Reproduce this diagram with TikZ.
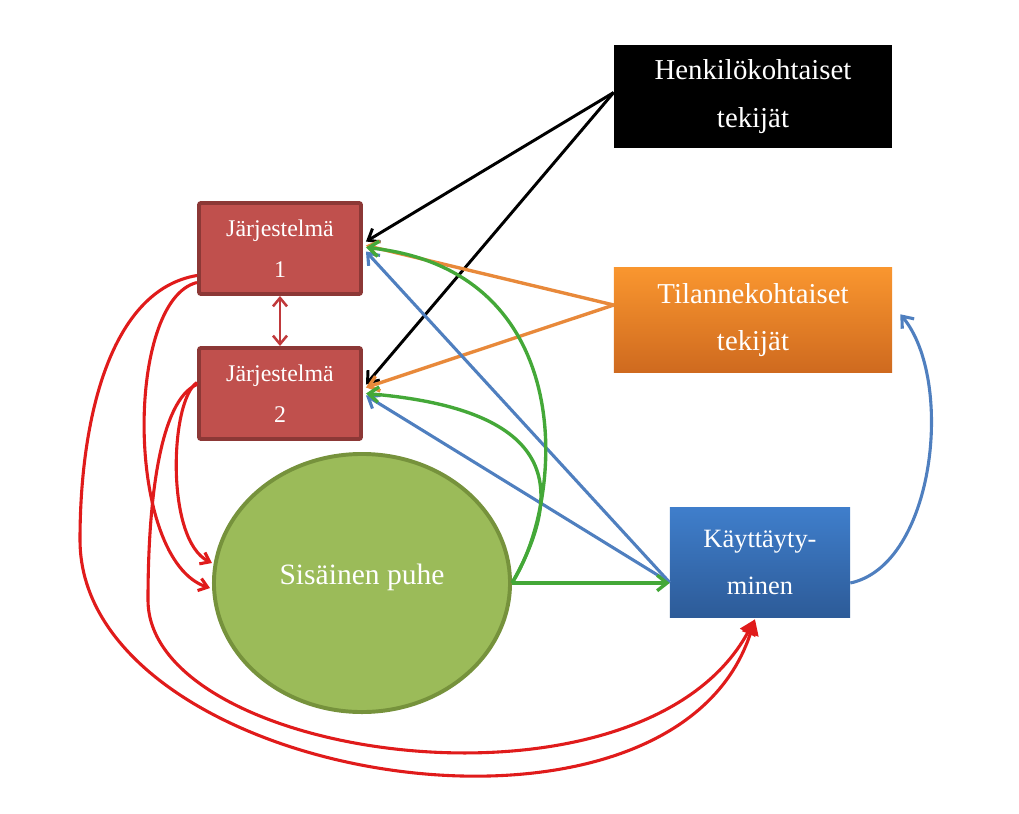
\documentclass[tikz,border=0pt]{standalone}
\usepackage{fontspec}
\setmainfont{Liberation Serif}
\usetikzlibrary{arrows.meta,shapes.geometric,calc}
\definecolor{jred}{HTML}{C0504D}
\definecolor{jredd}{HTML}{8C3836}
\definecolor{egreen}{HTML}{9BBB59}
\definecolor{egreend}{HTML}{76923C}
\definecolor{lorange}{HTML}{E8893A}
\definecolor{lblue}{HTML}{4F7FBF}
\definecolor{lgreen}{HTML}{44A838}
\definecolor{lred}{HTML}{E01B1B}
\definecolor{dred}{HTML}{C0393B}
\definecolor{otop}{HTML}{F9962F}
\definecolor{obot}{HTML}{CF6A1F}
\definecolor{btop}{HTML}{3F7ECB}
\definecolor{bbot}{HTML}{2D5B98}
\begin{document}
\begin{tikzpicture}[x=0.025cm,y=-0.025cm,
  jbox/.style={draw=jredd, fill=jred, line width=2.8pt, rounded corners=1.5pt,
    minimum width=4.05cm, minimum height=2.275cm, inner sep=0pt, text=white,
    align=center, font=\fontsize{17}{29}\selectfont},
  fbox/.style={inner sep=0pt, text=white, align=center,
    minimum width=6.95cm, font=\fontsize{20.5}{34}\selectfont},
  barb/.style={-{Straight Barb[length=7pt,width=11pt]}},
  blk/.style={barb, draw=black, line width=2.1pt},
  orn/.style={barb, draw=lorange, line width=2.4pt},
  blu/.style={barb, draw=lblue, line width=2.2pt},
  grn/.style={barb, draw=lgreen, line width=2.4pt},
  rcurve/.style={draw=lred, line width=2.2pt},
  rsmall/.style={rcurve, -{Straight Barb[length=6pt,width=9pt]}},
  rbig/.style={rcurve, -{Triangle[length=11pt,width=12pt]}}
]
\useasboundingbox (0,0) rectangle (1019,814);

% nodes
\node[fbox, fill=black, minimum height=2.575cm] (hk) at (753,96.5) {Henkilökohtaiset\\tekijät};
\node[fbox, top color=otop, bottom color=obot, minimum height=2.6cm] (tk) at (753,320) {Tilannekohtaiset\\tekijät};
\node[jbox] (j1) at (280,248.5) {Järjestelmä\\1};
\node[jbox] (j2) at (280,393.5) {Järjestelmä\\2};
\node[ellipse, draw=egreend, fill=egreen, line width=2.8pt, inner sep=0pt,
  minimum width=7.4cm, minimum height=6.45cm] (el) at (362,583) {};
\node[text=white, font=\fontsize{21}{30}\selectfont, inner sep=0pt] (elt) at (362,577) {Sisäinen puhe};
\node[inner sep=0pt, top color=btop, bottom color=bbot, minimum width=4.5cm,
  minimum height=2.725cm, text=white, align=center,
  font=\fontsize{18.8}{33}\selectfont] (beh) at (760,562.5) {Käyttäyty-\\minen};

% black
\draw[blk] ($(hk.west)+(0,-4)$) -- ($(j1.east)+(3,-7)$);
\draw[blk] ($(hk.west)+(0,-4)$) -- ($(j2.east)+(3,-9)$);
% orange
\draw[orn] ($(tk.west)+(0,-15)$) -- ($(j1.east)+(3,-3)$);
\draw[orn] ($(tk.west)+(0,-15)$) -- ($(j2.east)+(3,-6)$);
% blue
\draw[blu] ($(beh.west)+(0,20)$) -- ($(j1.east)+(3,3)$);
\draw[blu] ($(beh.west)+(0,20)$) -- ($(j2.east)+(3,2)$);
\draw[blu] (beh.east |- el.east) .. controls (935,565) and (955,380) .. ($(tk.south east)+(8,-58)$);
% green
\draw[grn] (el.east) .. controls (565,500) and (580,270) .. ($(j1.east)+(3,-1)$);
\draw[grn] (el.east) .. controls (565,490) and (560,410) .. ($(j2.east)+(3,0)$);
\draw[grn] (el.east) -- (el.east -| beh.west);
% red between systems
\draw[draw=dred, line width=1.8pt, {Straight Barb[length=6pt,width=10pt]}-{Straight Barb[length=6pt,width=10pt]}] (j1.south) -- (j2.north);
% red curves
\draw[rsmall] ($(j1.west)+(0,34)$) .. controls (125,300) and (125,560) .. ($(el.west)+(-2,5)$);
\draw[rsmall] ($(j2.west)+(0,-11)$) .. controls (170,400) and (165,540) .. ($(el.west)+(0,-20)$);
\draw[rbig] ($(j1.west)+(0,27)$) .. controls (110,290) and (80,420) .. (80,540)
  .. controls (80,780) and (670,880) .. ($(beh.south)+(-5,2)$);
\draw[rbig] ($(j2.west)+(0,-9)$) .. controls (160,400) and (148,500) .. (148,600)
  .. controls (148,760) and (640,830) .. ($(beh.south)+(-5,2)$);
\end{tikzpicture}
\end{document}
